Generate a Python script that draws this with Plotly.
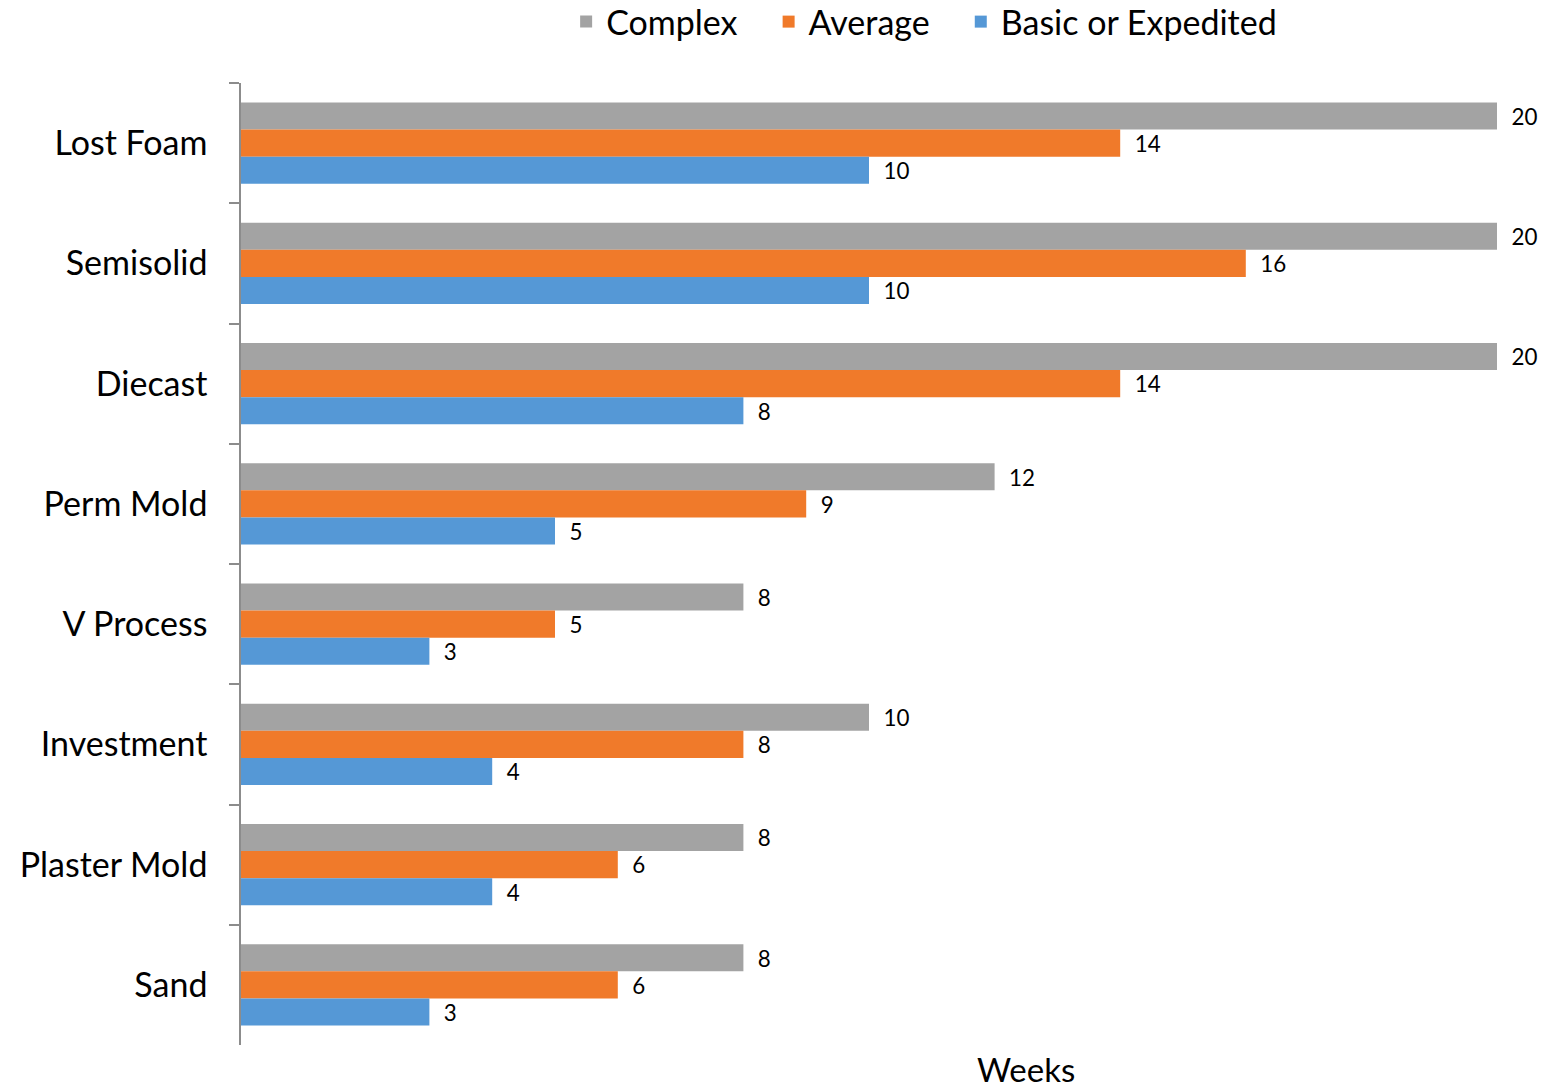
import plotly.graph_objects as go

categories = ["Lost Foam", "Semisolid", "Diecast", "Perm Mold", "V Process",
              "Investment", "Plaster Mold", "Sand"]
complex_weeks = [20, 20, 20, 12, 8, 10, 8, 8]
average_weeks = [14, 16, 14, 9, 5, 8, 6, 6]
basic_weeks = [10, 10, 8, 5, 3, 4, 4, 3]

series = [
    ("Complex\u00a0\u00a0\u00a0", complex_weeks, "#a3a3a3"),
    ("Average\u00a0\u00a0\u00a0", average_weeks, "#f07a2a"),
    ("Basic or Expedited", basic_weeks, "#5598d6"),
]

FONT = "Lato, 'Open Sans', sans-serif"

fig = go.Figure()
for name, vals, color in series:
    fig.add_trace(go.Bar(
        y=categories, x=vals, name=name, orientation="h",
        marker=dict(color=color, line=dict(width=0)),
        text=vals, texttemplate="\u00a0\u00a0%{x}", textposition="outside",
        textfont=dict(size=24, color="#000000", family=FONT),
        cliponaxis=False,
    ))

fig.update_layout(
    width=1549, height=1090,
    margin=dict(l=241, r=52, t=83, b=45),
    barmode="group", bargap=0.325, bargroupgap=0,
    plot_bgcolor="white", paper_bgcolor="white",
    font=dict(family=FONT, color="#000000"),
    legend=dict(orientation="h", x=0.5966, xref="container", xanchor="center",
                y=0.9798, yref="container", yanchor="middle",
                font=dict(size=34, family=FONT),
                itemwidth=30, traceorder="normal"),
    showlegend=True,
)
fig.update_xaxes(range=[0, 20], visible=False, showgrid=False, zeroline=False)
fig.update_yaxes(autorange="reversed", showline=True, linecolor="#8c8c8c", linewidth=1.5,
                 ticks="outside", ticklen=10, tickcolor="#8c8c8c", tickwidth=1.5,
                 tickson="boundaries", ticklabelstandoff=25,
                 tickfont=dict(size=34, family=FONT, color="#000000"),
                 showgrid=False, zeroline=False)
fig.add_annotation(text="Weeks", xref="x", x=12.5, yref="paper", y=0, yshift=-24,
                   xanchor="center", yanchor="middle", showarrow=False,
                   font=dict(size=33, family=FONT, color="#000000"))

fig.write_html("out.html")
